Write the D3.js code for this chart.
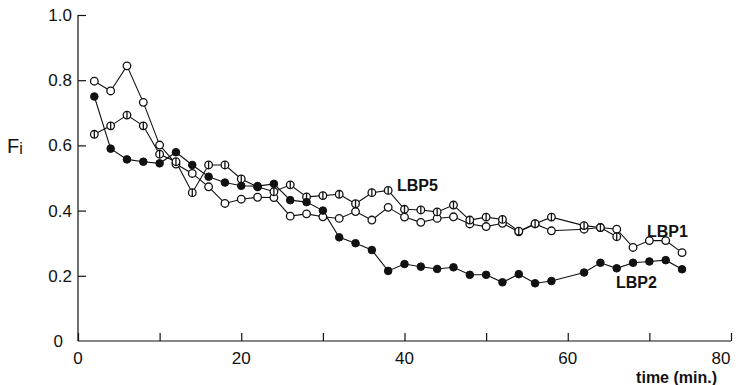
<!DOCTYPE html>
<html><head><meta charset="utf-8">
<script src="https://cdn.jsdelivr.net/npm/d3@7"></script>
<style>body{margin:0;background:#fff}svg{display:block}</style>
</head><body><svg id="c" width="741" height="385"></svg>
<script>
const timesFull = [2,4,6,8,10,12,14,16,18,20,22,24,26,28,30,32,34,36,38,40,42,44,46,48,50,52,54,56,58,62,64,66,68,70,72,74];
const lbp2 = [0.75,0.59,0.557,0.55,0.545,0.579,0.54,0.504,0.486,0.476,0.475,0.482,0.432,0.426,0.40,0.318,0.30,0.279,0.215,0.236,0.228,0.221,0.226,0.203,0.203,0.18,0.205,0.177,0.184,0.21,0.24,0.223,0.24,0.244,0.248,0.22];
const lbp1 = [0.797,0.767,0.844,0.732,0.601,0.543,0.514,0.473,0.422,0.435,0.441,0.44,0.383,0.39,0.381,0.376,0.397,0.371,0.41,0.38,0.364,0.376,0.381,0.359,0.351,0.361,0.335,0.359,0.338,0.343,0.348,0.343,0.287,0.308,0.308,0.271];
const timesLbp5 = [2,4,6,8,10,12,14,16,18,20,22,24,26,28,30,32,34,36,38,40,42,44,46,48,50,52,54,56,58,62,64,66];
const lbp5 = [0.634,0.66,0.693,0.66,0.573,0.55,0.455,0.54,0.54,0.497,0.473,0.458,0.479,0.442,0.446,0.45,0.421,0.455,0.462,0.404,0.402,0.396,0.417,0.371,0.38,0.373,0.337,0.36,0.38,0.354,0.348,0.32];
const xTicks = [0,10,20,30,40,50,60,70,80];
const xLabels = [0,20,40,60,80];
const yTicks = [0.2,0.4,0.6,0.8,1.0];
const yLabels = ["0.2","0.4","0.6","0.8","1.0"];

const svg = d3.select("#c");
const x = d3.scaleLinear().domain([0,80]).range([78,731]);
const y = d3.scaleLinear().domain([0,1]).range([341,15]);
const font = "'Liberation Sans', Arial, sans-serif";
const ink = "#111";

// axes
const xAxis = d3.axisBottom(x).tickValues(xTicks).tickSize(-8).tickFormat(() => "");
const gx = svg.append("g").attr("transform","translate(0,341)").call(xAxis);
gx.select(".domain").attr("d", `M${x(0)},0H${x(80)}`).attr("stroke", ink).attr("stroke-width",1.2);
gx.selectAll(".tick line").attr("stroke", ink).attr("stroke-width",1.2);

const yAxis = d3.axisLeft(y).tickValues(yTicks).tickSize(-8).tickFormat(() => "");
const gy = svg.append("g").attr("transform","translate(78,0)").call(yAxis);
gy.select(".domain").attr("d", `M0,${y(0)}V${y(1)}`).attr("stroke", ink).attr("stroke-width",1.2);
gy.selectAll(".tick line").attr("stroke", ink).attr("stroke-width",1.2);

// tick labels
svg.append("g").selectAll("text").data(xLabels).join("text")
  .attr("x", d => d === 80 ? x(d) - 10 : x(d))
  .attr("y", 364).attr("text-anchor","middle")
  .attr("font-family", font).attr("font-size", 17).attr("fill", ink)
  .text(d => d);
svg.append("g").selectAll("text").data(yTicks).join("text")
  .attr("x", 72).attr("y", d => y(d) + 6).attr("text-anchor","end")
  .attr("font-family", font).attr("font-size", 17).attr("fill", ink)
  .text((d,i) => yLabels[i]);
svg.append("text").attr("x", 63).attr("y", y(0) + 6).attr("text-anchor","end")
  .attr("font-family", font).attr("font-size", 17).attr("fill", ink).text("0");

// axis titles
const fi = svg.append("text").attr("x", 7).attr("y", 153)
  .attr("font-family", font).attr("font-size", 20).attr("fill", ink);
fi.append("tspan").text("F");
fi.append("tspan").attr("dy", 1).attr("font-size", 16).text("i");
svg.append("text").attr("x", 717).attr("y", 383).attr("text-anchor","end")
  .attr("font-family", font).attr("font-size", 16).attr("font-weight","bold").attr("fill", ink)
  .text("time (min.)");

// lines
const line = d3.line().x(d => x(d[0])).y(d => y(d[1]));
const s1 = timesFull.map((t,i) => [t, lbp1[i]]);
const s2 = timesFull.map((t,i) => [t, lbp2[i]]);
const s5 = timesLbp5.map((t,i) => [t, lbp5[i]]);
[s1, s5, s2].forEach(s => svg.append("path").datum(s).attr("d", line)
  .attr("fill","none").attr("stroke", ink).attr("stroke-width",1.1));

const r = 3.8;
// open circles (LBP1)
svg.append("g").selectAll("circle").data(s1).join("circle")
  .attr("cx", d => x(d[0])).attr("cy", d => y(d[1])).attr("r", r)
  .attr("fill","#fff").attr("stroke", ink).attr("stroke-width",1.3);
// barred circles (LBP5)
const g5 = svg.append("g").selectAll("g").data(s5).join("g")
  .attr("transform", d => `translate(${x(d[0])},${y(d[1])})`);
g5.append("circle").attr("r", r).attr("fill","#fff").attr("stroke", ink).attr("stroke-width",1.3);
g5.append("line").attr("y1", -r).attr("y2", r).attr("stroke", ink).attr("stroke-width",1.3);
// filled circles (LBP2)
svg.append("g").selectAll("circle").data(s2).join("circle")
  .attr("cx", d => x(d[0])).attr("cy", d => y(d[1])).attr("r", r)
  .attr("fill", ink).attr("stroke", ink).attr("stroke-width",1);

// series labels
const lab = (t, xx, yy) => svg.append("text").attr("x", xx).attr("y", yy)
  .attr("font-family", font).attr("font-size", 16).attr("font-weight","bold").attr("fill", ink).text(t);
lab("LBP5", 397, 191);
lab("LBP1", 647, 237);
lab("LBP2", 616, 288);
</script></body></html>
